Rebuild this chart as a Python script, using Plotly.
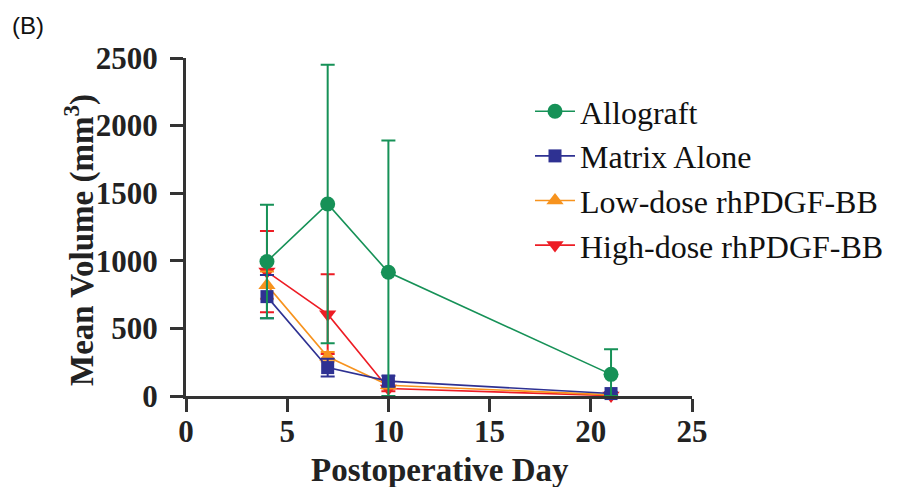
import plotly.graph_objects as go

days = [4, 7, 10, 21]
series_names = ["Allograft", "Matrix Alone", "Low-dose rhPDGF-BB", "High-dose rhPDGF-BB"]

allograft = [995, 1420, 915, 160]
allograft_err_up = [420, 1030, 975, 185]
allograft_err_down = [420, 1030, 915, 160]

matrix = [735, 210, 110, 18]
matrix_err = [160, 65, 40, 10]

low_dose = [820, 290, 80, 8]
low_dose_err = [100, 35, 25, 5]

high_dose = [920, 605, 55, 3]
high_dose_err = [300, 295, 20, 3]

x_ticks = [0, 5, 10, 15, 20, 25]
y_ticks = [0, 500, 1000, 1500, 2000, 2500]

colors = {"Allograft": "#169157", "Matrix Alone": "#2e3192",
          "Low-dose rhPDGF-BB": "#f7931e", "High-dose rhPDGF-BB": "#ed1c24"}

# plot-area geometry (figure pixels)
L, T, W, H = 178, 50, 506, 338
def px(x):
    return (x - L) / W
def py(y):
    return (T + H - y) / H

fig = go.Figure()

def add(name, y, up, down, symbol, size):
    c = colors[name]
    fig.add_trace(go.Scatter(
        x=days, y=y, name=name, mode="lines+markers", legendgroup=name,
        line=dict(color=c, width=1.6),
        marker=dict(symbol=symbol, size=size, color=c),
        error_y=dict(type="data", array=up, arrayminus=down, symmetric=False,
                     color=c, thickness=2, width=7),
        cliponaxis=False,
    ))

add("High-dose rhPDGF-BB", high_dose, high_dose_err, high_dose_err, "triangle-down", 15)
add("Low-dose rhPDGF-BB", low_dose, low_dose_err, low_dose_err, "triangle-up", 15)
add("Matrix Alone", matrix, matrix_err, matrix_err, "square", 13)
add("Allograft", allograft, allograft_err_up, allograft_err_down, "circle", 15)

tick_font = dict(family="Liberation Serif", size=31, color="#222222")
title_font = dict(family="Liberation Serif", size=33, color="#222222")

fig.update_layout(
    width=901, height=487,
    margin=dict(l=L, r=901 - L - W, t=T, b=487 - T - H),
    paper_bgcolor="white", plot_bgcolor="white",
    showlegend=True,
    legend=dict(x=px(522), y=py(76), xanchor="left", yanchor="top",
                traceorder="reversed",
                font=dict(family="Liberation Serif", size=32, color="#111111"),
                bgcolor="rgba(0,0,0,0)", itemsizing="trace",
                tracegroupgap=9, itemwidth=40),
    xaxis=dict(range=[0, 25], tickvals=x_ticks, ticktext=[f"<b>{t}</b>" for t in x_ticks],
               showgrid=False, zeroline=False, showline=True, linecolor="#333333",
               linewidth=3, ticks="outside", ticklen=13, tickwidth=3, tickcolor="#333333",
               tickfont=tick_font, automargin=False, ticklabelstandoff=-7),
    yaxis=dict(range=[0, 2500], tickvals=y_ticks, ticktext=[f"<b>{t}</b>" for t in y_ticks],
               showgrid=False, zeroline=False, showline=True, linecolor="#333333",
               linewidth=3, ticks="outside", ticklen=13, tickwidth=3, tickcolor="#333333",
               tickfont=tick_font, automargin=False, ticklabelstandoff=6),
)
fig.add_annotation(text="<b>Postoperative Day</b>", xref="paper", yref="paper",
                   x=px(432), y=py(462), xanchor="center", yanchor="middle",
                   showarrow=False, font=title_font)
fig.add_annotation(text="<b>Mean Volume (mm<sup>3</sup>)</b>", xref="paper", yref="paper",
                   x=px(71), y=py(232), xanchor="center", yanchor="middle", textangle=-90,
                   showarrow=False, font=title_font)
fig.add_annotation(text="(B)", xref="paper", yref="paper", x=px(2), y=py(17),
                   xanchor="left", yanchor="middle", showarrow=False,
                   font=dict(family="Liberation Sans", size=24, color="#111111"))

fig.write_html("out.html")
